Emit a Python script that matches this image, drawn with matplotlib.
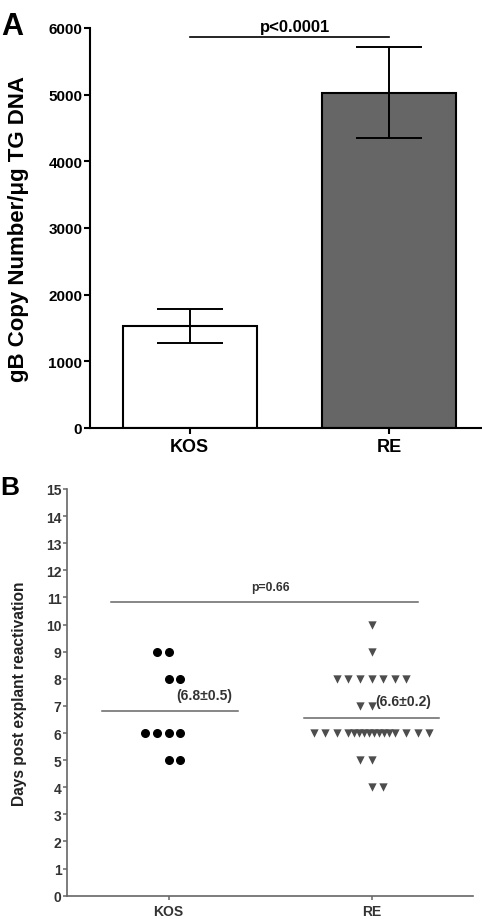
import matplotlib
matplotlib.use("Agg")
import matplotlib.pyplot as plt
import numpy as np

plt.rcParams['font.family'] = ['Liberation Sans', 'DejaVu Sans']
plt.rcParams['font.weight'] = 'bold'

# ---------------- data ----------------
# Panel A
groups = ["KOS", "RE"]
copy_mean = [1530, 5030]
copy_sem = [255, 680]
pval_a = "p<0.0001"
ticks_a = [0, 1000, 2000, 3000, 4000, 5000, 6000]

# Panel B (days post explant reactivation)
kos_days = [9, 9, 8, 8, 6, 6, 6, 6, 5, 5]
re_days = [10, 9,
           8, 8, 8, 8, 8, 8, 8,
           7, 7,
           6, 6, 6, 6, 6, 6, 6, 6, 6, 6, 6, 6, 6, 6, 6, 6,
           5, 5,
           4, 4]
kos_mean_label = "(6.8\u00b10.5)"
re_mean_label = "(6.6\u00b10.2)"
pval_b = "p=0.66"
ticks_b = list(range(0, 16))

# horizontal layout of the scatter points (in marker-spacing units)
kos_offsets = [-1, 0, 0, 1, -2, -1, 0, 1, 0, 1]
re_offsets = ([0, 0] + [-3, -2, -1, 0, 1, 2, 3] + [-1, 0]
              + [-5, -4, -3] + list(np.linspace(-2, 2, 10)) + [3, 4, 5]
              + [-1, 0] + [0, 1])

fig = plt.figure(figsize=(4.82, 9.2), dpi=100)

# ---------------- Panel A ----------------
axA = fig.add_axes([90/482, 1-429/920, 391/482, 400/920])
x = np.arange(len(groups))
axA.bar(x, copy_mean, width=0.67, color=["white", "#666666"],
        edgecolor="black", linewidth=1.5, zorder=2)
axA.errorbar(x, copy_mean, yerr=copy_sem, fmt="none", ecolor="black",
             elinewidth=1.4, capsize=23.5, capthick=1.4, zorder=3)
axA.set_xlim(-0.5, 1.46)
axA.set_ylim(0, 6000)
axA.set_yticks(ticks_a)
axA.set_xticks(x)
axA.set_xticklabels(groups, fontsize=13, fontweight="bold")
axA.tick_params(axis="y", labelsize=11, width=1.5, length=4.5, direction="out", pad=1)
axA.tick_params(axis="x", width=1.5, length=4.5, direction="out", pad=3)
for lbl in axA.get_yticklabels():
    lbl.set_fontweight("bold")
for s in ["top", "right"]:
    axA.spines[s].set_visible(False)
for s in ["left", "bottom"]:
    axA.spines[s].set_linewidth(1.5)
sig_y = 5860
axA.plot([x[0], x[1]], [sig_y, sig_y], color="black", lw=1.2, clip_on=False)
axA.text(np.mean(x) + 0.03, sig_y + 100, pval_a, ha="center", va="baseline",
         fontsize=12, fontweight="bold")
axA.set_ylabel("gB Copy Number/\u03bcg TG DNA", fontsize=16, fontweight="bold")
axA.yaxis.set_label_coords(-0.157, 0.5)
fig.text(0.003, 1-12/920, "A", fontsize=22, fontweight="bold", ha="left", va="top")

# ---------------- Panel B ----------------
axB = fig.add_axes([67/482, 1-896.7/920, 406/482, 406.7/920])
grey = "#666666"
spacing = 0.057
axB.scatter(0 + np.array(kos_offsets) * spacing, kos_days, s=30, marker="o",
            color="black", zorder=3, clip_on=False)
axB.scatter(1 + np.array(re_offsets) * spacing, re_days, s=36, marker="v",
            color="#4d4d4d", zorder=3, clip_on=False, linewidths=0)
kos_mean = np.mean(kos_days)
re_mean = np.mean(re_days)
axB.plot([-0.33, 0.34], [kos_mean, kos_mean], color=grey, lw=1.1)
axB.plot([0.667, 1.333], [re_mean, re_mean], color=grey, lw=1.1)
axB.text(0.04, kos_mean + 0.6, kos_mean_label, fontsize=10, fontweight="bold",
         color="#333333", ha="left", va="center")
axB.text(1.02, re_mean + 0.62, re_mean_label, fontsize=10, fontweight="bold",
         color="#333333", ha="left", va="center")
axB.plot([-0.284, 1.23], [10.82, 10.82], color=grey, lw=1.1)
axB.text(0.5, 11.4, pval_b, fontsize=8.7, fontweight="bold", color="#333333",
         ha="center", va="center")
axB.set_xlim(-0.5, 1.5)
axB.set_ylim(0, 15)
axB.set_yticks(ticks_b)
axB.set_xticks([0, 1])
axB.set_xticklabels(groups, fontsize=10, fontweight="bold", color="#333333")
axB.tick_params(axis="y", labelsize=10, width=1.1, length=3, direction="out",
                pad=1, color=grey, labelcolor="#333333")
axB.tick_params(axis="x", width=1.1, length=3, direction="out", pad=3, color=grey)
for lbl in axB.get_yticklabels():
    lbl.set_fontweight("bold")
for s in ["top", "right"]:
    axB.spines[s].set_visible(False)
for s in ["left", "bottom"]:
    axB.spines[s].set_linewidth(1.2)
    axB.spines[s].set_color(grey)
axB.set_ylabel("Days post explant reactivation", fontsize=11.2,
               fontweight="bold", color="#222222")
axB.yaxis.set_label_coords(-0.098, 0.5)
fig.text(0.0, 1-476/920, "B", fontsize=19, fontweight="bold", ha="left", va="top")

fig.savefig("out.png", dpi=100)
